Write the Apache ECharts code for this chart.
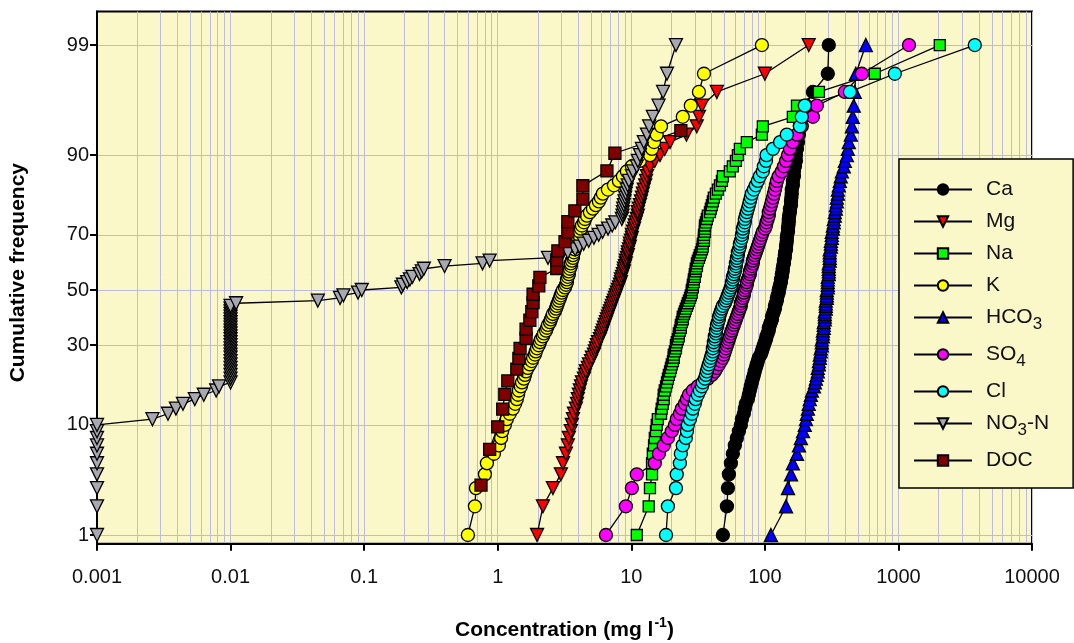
<!DOCTYPE html>
<html>
<head>
<meta charset="utf-8">
<title>Cumulative frequency of concentrations</title>
<script src="https://cdn.jsdelivr.net/npm/echarts@6/dist/echarts.min.js"></script>
<style>
  html, body { margin: 0; padding: 0; background: #fff; }
  #chart { width: 1074px; height: 643px; }
</style>
</head>
<body>
<div id="chart"></div>
<script>
// plotting positions (cumulative frequency, %)
const freq99 = [1, 2, 3, 4, 5, 6, 7, 8, 9, 10, 11, 12, 13, 14, 15, 16, 17, 18, 19, 20,
  21, 22, 23, 24, 25, 26, 27, 28, 29, 30, 31, 32, 33, 34, 35, 36, 37, 38, 39, 40,
  41, 42, 43, 44, 45, 46, 47, 48, 49, 50, 51, 52, 53, 54, 55, 56, 57, 58, 59, 60,
  61, 62, 63, 64, 65, 66, 67, 68, 69, 70, 71, 72, 73, 74, 75, 76, 77, 78, 79, 80,
  81, 82, 83, 84, 85, 86, 87, 88, 89, 90, 91, 92, 93, 94, 95, 96, 97, 98, 99];
const freqDoc = [3.2, 6.5, 9.7, 12.9, 16.1, 19.4, 22.6, 25.8, 29.0, 32.3, 35.5, 38.7, 41.9, 45.2, 48.4,
  51.6, 54.8, 58.1, 61.3, 64.5, 67.7, 71.0, 74.2, 77.4, 80.6, 83.9, 87.1, 90.3, 93.5];

// concentrations (mg/l), sorted
const ca = [48.5, 52.0, 52.9, 53.8, 55.7, 57.6, 59.6, 61.7, 63.9, 66.1,
  67.3, 69.6, 70.8, 72.1, 74.6, 75.9, 77.2, 78.5, 79.9, 81.3,
  82.7, 84.1, 85.6, 87.1, 88.6, 90.1, 93.3, 95.0, 96.6, 98.3,
  100, 102, 103, 105, 107, 107, 109, 111, 113, 113,
  115, 117, 119, 119, 121, 123, 123, 125, 127, 127,
  129, 130, 132, 132, 134, 134, 136, 136, 137, 139,
  139, 141, 141, 142, 144, 144, 145, 146, 146, 147,
  149, 149, 150, 151, 151, 152, 154, 154, 157, 157,
  158, 159, 159, 162, 162, 165, 165, 168, 171, 171,
  174, 177, 180, 183, 189, 203, 229, 296, 301];
const mg = [1.97, 2.18, 2.59, 2.97, 3.08, 3.24, 3.35, 3.41, 3.53, 3.59,
  3.66, 3.72, 3.85, 3.92, 3.98, 4.05, 4.12, 4.20, 4.27, 4.42,
  4.50, 4.57, 4.73, 4.82, 4.99, 5.07, 5.25, 5.34, 5.43, 5.53,
  5.63, 5.82, 5.92, 6.03, 6.13, 6.24, 6.35, 6.46, 6.57, 6.68,
  6.80, 6.92, 7.04, 7.16, 7.28, 7.41, 7.54, 7.67, 7.80, 7.94,
  8.08, 8.22, 8.36, 8.36, 8.51, 8.65, 8.80, 8.80, 8.96, 9.11,
  9.11, 9.27, 9.43, 9.43, 9.60, 9.76, 9.76, 9.93, 10.1, 10.1,
  10.3, 10.5, 10.6, 10.8, 11.0, 11.2, 11.2, 11.4, 11.6, 11.8,
  12.0, 12.2, 12.4, 12.7, 12.9, 13.1, 13.3, 13.8, 15.0, 16.4,
  17.8, 19.5, 25.9, 30.9, 32.1, 33.8, 43.7, 100, 213];
const na = [11.0, 13.5, 13.8, 14.3, 14.3, 14.5, 14.8, 15.0, 15.3, 15.5,
  15.8, 16.7, 16.9, 17.2, 17.5, 17.5, 17.8, 18.2, 18.5, 18.8,
  19.1, 19.5, 19.8, 20.1, 20.5, 20.8, 20.8, 21.2, 21.6, 21.6,
  21.9, 22.3, 22.7, 22.7, 23.1, 23.5, 23.5, 23.9, 24.3, 24.3,
  24.8, 25.2, 25.6, 26.1, 26.5, 27.0, 27.5, 27.9, 28.4, 28.4,
  28.9, 28.9, 29.4, 29.4, 29.9, 29.9, 30.4, 30.4, 31.0, 31.0,
  31.5, 32.1, 32.6, 33.2, 33.8, 34.3, 34.3, 35.0, 35.0, 35.0,
  35.6, 35.6, 35.6, 36.2, 36.8, 37.4, 38.8, 39.4, 40.1, 40.8,
  41.5, 43.0, 44.5, 46.1, 47.7, 48.5, 54.7, 57.6, 60.7, 62.8,
  65.0, 73.3, 95.0, 96.6, 162, 174, 254, 666, 2040];
const k = [0.598, 0.675, 0.687, 0.802, 0.830, 0.937, 1.02, 1.06, 1.08, 1.13,
  1.17, 1.23, 1.30, 1.35, 1.39, 1.42, 1.44, 1.49, 1.52, 1.57,
  1.60, 1.63, 1.68, 1.74, 1.80, 1.84, 1.90, 1.93, 1.97, 2.03,
  2.07, 2.11, 2.18, 2.22, 2.30, 2.34, 2.38, 2.46, 2.50, 2.55,
  2.59, 2.68, 2.73, 2.77, 2.82, 2.87, 2.92, 2.97, 3.02, 3.08,
  3.19, 3.24, 3.30, 3.30, 3.35, 3.41, 3.41, 3.47, 3.53, 3.53,
  3.59, 3.66, 3.66, 3.72, 3.78, 3.85, 3.92, 3.92, 3.98, 4.05,
  4.12, 4.20, 4.27, 4.42, 4.50, 4.65, 4.90, 5.16, 5.43, 5.72,
  5.92, 6.13, 6.68, 7.41, 8.08, 8.65, 9.27, 10.1, 11.6, 13.8,
  14.3, 14.8, 15.5, 16.7, 24.3, 27.9, 32.1, 35.0, 95];
const hco3 = [111, 144, 149, 157, 162, 174, 180, 186, 193, 199,
  203, 206, 210, 213, 217, 221, 225, 233, 237, 241,
  245, 249, 249, 254, 254, 258, 258, 262, 262, 267,
  267, 267, 272, 272, 272, 276, 276, 276, 281, 281,
  281, 281, 286, 286, 286, 286, 291, 291, 291, 291,
  296, 296, 296, 296, 296, 301, 301, 301, 301, 301,
  306, 306, 306, 306, 306, 312, 312, 312, 317, 317,
  317, 323, 323, 328, 328, 334, 334, 340, 340, 346,
  346, 352, 352, 358, 364, 370, 377, 390, 397, 411,
  418, 425, 440, 448, 455, 463, 471, 480, 570];
const so4 = [6.46, 9.11, 10.1, 11.0, 15.0, 16.1, 17.5, 18.8, 20.1, 21.2,
  21.9, 23.1, 23.9, 25.2, 26.1, 27.0, 28.9, 31.5, 34.3, 37.4,
  40.1, 42.2, 43.7, 45.3, 46.9, 48.5, 49.3, 50.2, 51.1, 52.0,
  52.9, 53.8, 54.7, 55.7, 56.6, 57.6, 58.6, 59.6, 60.7, 61.7,
  62.8, 63.9, 65.0, 66.1, 66.1, 67.3, 68.4, 69.6, 69.6, 70.8,
  72.1, 73.3, 73.3, 74.6, 75.9, 77.2, 77.2, 78.5, 79.9, 81.3,
  81.3, 82.7, 84.1, 85.6, 87.1, 88.6, 90.1, 91.7, 93.3, 95.0,
  96.6, 100, 102, 103, 105, 107, 107, 109, 111, 113,
  115, 117, 119, 121, 123, 127, 134, 139, 144, 149,
  154, 162, 174, 189, 229, 245, 397, 532, 1200];
const cl = [18.2, 18.8, 21.6, 21.9, 23.1, 23.5, 24.3, 25.6, 26.1, 26.5,
  27.5, 28.4, 28.9, 29.9, 30.4, 31.5, 32.6, 33.8, 34.3, 35.6,
  36.2, 36.8, 37.4, 38.1, 38.8, 39.4, 40.1, 40.8, 40.8, 41.5,
  41.5, 42.2, 42.2, 43.0, 43.0, 43.7, 43.7, 44.5, 45.3, 45.3,
  46.1, 46.9, 47.7, 48.5, 50.2, 51.1, 52.0, 52.9, 53.8, 54.7,
  55.7, 56.6, 56.6, 57.6, 57.6, 58.6, 59.6, 59.6, 60.7, 60.7,
  61.7, 61.7, 62.8, 62.8, 63.9, 65.0, 65.0, 66.1, 67.3, 67.3,
  68.4, 68.4, 69.6, 70.8, 70.8, 72.1, 73.3, 74.6, 75.9, 77.2,
  78.5, 79.9, 82.7, 85.6, 88.6, 91.7, 96.6, 98.3, 102, 103,
  115, 130, 146, 183, 189, 199, 433, 940, 3730];
const no3n = [0.001, 0.001, 0.001, 0.001, 0.001, 0.001, 0.001, 0.001, 0.001, 0.001,
  0.0026, 0.0034, 0.0039, 0.0044, 0.0054, 0.0063, 0.0078, 0.0082, 0.01, 0.01,
  0.01, 0.01, 0.01, 0.01, 0.01, 0.01, 0.01, 0.01, 0.01, 0.01,
  0.01, 0.01, 0.01, 0.01, 0.01, 0.01, 0.01, 0.01, 0.01, 0.01,
  0.01, 0.01, 0.01, 0.01, 0.011, 0.045, 0.066, 0.070, 0.090, 0.096,
  0.19, 0.195, 0.21, 0.22, 0.23, 0.26, 0.27, 0.28, 0.40, 0.77,
  0.87, 2.38, 3.0, 3.35, 3.8, 4.1, 4.4, 4.8, 5.25, 5.7,
  6.1, 6.7, 7.2, 7.6, 8.5, 8.6, 8.65, 8.7, 8.8, 8.9,
  9.0, 9.1, 9.25, 9.4, 9.6, 10.1, 10.3, 11.0, 11.2, 11.6,
  12.0, 12.4, 13.1, 13.6, 14.5, 16.0, 17.3, 18.5, 21.6];
const doc = [0.75, 0.87, 1.00, 1.09, 1.13, 1.19, 1.39, 1.44, 1.47, 1.63, 1.63, 1.74, 1.80, 1.84, 1.84,
  2.03, 2.07, 2.77, 2.77, 2.82, 3.19, 3.35, 3.35, 3.78, 4.34, 4.34, 6.57, 7.54, 23.5];

// tick labels
const xTicks = [0.001, 0.01, 0.1, 1, 10, 100, 1000, 10000];
const yTicks = [1, 10, 30, 50, 70, 90, 99];

const FONT = '"Liberation Sans", Arial, Helvetica, sans-serif';
const GRID_COLOR = '#BDBBDF';

// inverse of the standard normal cdf (Acklam)
function probit(p) {
  const a = [-3.969683028665376e+01, 2.209460984245205e+02, -2.759285104469687e+02,
    1.383577518672690e+02, -3.066479806614716e+01, 2.506628277459239e+00];
  const b = [-5.447609879822406e+01, 1.615858368580409e+02, -1.556989798598866e+02,
    6.680131188771972e+01, -1.328068155288572e+01];
  const c = [-7.784894002430293e-03, -3.223964580411365e-01, -2.400758277161838e+00,
    -2.549732539343734e+00, 4.374664141464968e+00, 2.938163982698783e+00];
  const d = [7.784695709041462e-03, 3.224671290700398e-01, 2.445134137142996e+00,
    3.754408661907416e+00];
  const pl = 0.02425;
  let q, r;
  if (p < pl) {
    q = Math.sqrt(-2 * Math.log(p));
    return (((((c[0] * q + c[1]) * q + c[2]) * q + c[3]) * q + c[4]) * q + c[5]) /
      ((((d[0] * q + d[1]) * q + d[2]) * q + d[3]) * q + 1);
  }
  if (p > 1 - pl) {
    q = Math.sqrt(-2 * Math.log(1 - p));
    return -(((((c[0] * q + c[1]) * q + c[2]) * q + c[3]) * q + c[4]) * q + c[5]) /
      ((((d[0] * q + d[1]) * q + d[2]) * q + d[3]) * q + 1);
  }
  q = p - 0.5;
  r = q * q;
  return (((((a[0] * r + a[1]) * r + a[2]) * r + a[3]) * r + a[4]) * r + a[5]) * q /
    (((((b[0] * r + b[1]) * r + b[2]) * r + b[3]) * r + b[4]) * r + 1);
}

// vertical grid lines at 1..9 x 10^n
const xGrid = [];
xTicks.forEach((t, i) => {
  if (i === xTicks.length - 1) { xGrid.push(t); return; }
  for (let m = 1; m < 10; m++) xGrid.push(+(t * m).toPrecision(3));
});

const yTickZ = yTicks.map(t => probit(t / 100));

const defs = [
  { name: 'Ca', vals: ca, freq: freq99, symbol: 'circle', size: 13, color: '#000000' },
  { name: 'Mg', vals: mg, freq: freq99, symbol: 'triangle', size: 13, color: '#FF0000', rotate: 180 },
  { name: 'Na', vals: na, freq: freq99, symbol: 'rect', size: 11, color: '#00FF00' },
  { name: 'K', vals: k, freq: freq99, symbol: 'circle', size: 13, color: '#FFFF00' },
  { name: 'HCO3', vals: hco3, freq: freq99, symbol: 'triangle', size: 13, color: '#0000FF' },
  { name: 'SO4', vals: so4, freq: freq99, symbol: 'circle', size: 13, color: '#FF00FF' },
  { name: 'Cl', vals: cl, freq: freq99, symbol: 'circle', size: 13, color: '#00FFFF' },
  { name: 'NO3-N', vals: no3n, freq: freq99, symbol: 'triangle', size: 13, color: '#A8A8B0', rotate: 180 },
  { name: 'DOC', vals: doc, freq: freqDoc, symbol: 'rect', size: 12, color: '#800000' }
];

const series = defs.map(s => ({
  name: s.name,
  type: 'line',
  xAxisIndex: 0,
  data: s.vals.map((v, i) => [v, probit(s.freq[i] / 100)]),
  symbol: s.symbol,
  symbolSize: s.size,
  symbolRotate: s.rotate || 0,
  showSymbol: true,
  lineStyle: { color: '#000', width: 1.3 },
  itemStyle: { color: s.color, borderColor: '#000', borderWidth: 1.3 },
  emphasis: { disabled: true }
}));

const legendNames = {
  'HCO3': 'HCO{sub|3}',
  'SO4': 'SO{sub|4}',
  'NO3-N': 'NO{sub|3}-N'
};

const chart = echarts.init(document.getElementById('chart'));
chart.setOption({
  animation: false,
  backgroundColor: '#ffffff',
  textStyle: { fontFamily: FONT },
  grid: {
    left: 97, right: 42, top: 11.5, bottom: 99.2,
    show: true,
    backgroundColor: '#FAF7C9',
    borderColor: '#000',
    borderWidth: 2,
    outerBoundsMode: 'none'
  },
  legend: {
    orient: 'vertical',
    left: 899,
    top: 159,
    padding: [20, 24, 17, 14],
    itemWidth: 58,
    itemHeight: 13,
    itemGap: 11,
    backgroundColor: '#FAF7C9',
    borderColor: '#000',
    borderWidth: 1.5,
    borderRadius: 0,
    selectedMode: false,
    textStyle: {
      fontFamily: FONT,
      fontSize: 21,
      color: '#111',
      padding: [0, 0, 0, 9],
      rich: {
        sub: { fontFamily: FONT, fontSize: 17, color: '#111', padding: [14, 0, 0, 0] }
      }
    },
    formatter: name => legendNames[name] || name,
    data: defs.map(s => s.name)
  },
  xAxis: [
    {
      type: 'log',
      logBase: 10,
      min: 0.001,
      max: 10000,
      position: 'bottom',
      name: '{b|Concentration (mg l}{sup|-1}{b|)}',
      nameLocation: 'middle',
      nameGap: 72,
      nameTextStyle: {
        rich: {
          b: { fontFamily: FONT, fontSize: 21, fontWeight: 'bold', color: '#000' },
          sup: { fontFamily: FONT, fontSize: 14, fontWeight: 'bold', color: '#000', padding: [0, 0, 14, 1] }
        }
      },
      axisLine: { show: true, onZero: false, lineStyle: { color: '#000', width: 2 } },
      axisTick: { show: true, inside: false, length: 7, lineStyle: { color: '#000', width: 2 }, customValues: xTicks },
      axisLabel: {
        customValues: xTicks,
        formatter: v => String(v),
        fontFamily: FONT,
        fontSize: 20,
        color: '#111',
        margin: 24
      },
      splitLine: { show: false }
    },
    {
      type: 'log',
      logBase: 10,
      min: 0.001,
      max: 10000,
      position: 'bottom',
      axisLine: { show: false, onZero: false },
      axisTick: { show: false, customValues: xGrid },
      axisLabel: { show: false },
      splitLine: { show: true, lineStyle: { color: GRID_COLOR, width: 1 } }
    }
  ],
  yAxis: {
    type: 'value',
    min: -2.41,
    max: 2.645,
    name: 'Cumulative frequency',
    nameLocation: 'middle',
    nameGap: 68,
    nameTextStyle: { fontFamily: FONT, fontSize: 21, fontWeight: 'bold', color: '#000', padding: [0, 0, 0, 10] },
    axisLine: { show: true, onZero: false, lineStyle: { color: '#000', width: 2 } },
    axisTick: { show: true, inside: false, length: 7, lineStyle: { color: '#000', width: 2 }, customValues: yTickZ },
    axisLabel: {
      customValues: yTickZ,
      formatter: v => {
        const i = yTickZ.findIndex(z => Math.abs(z - v) < 1e-6);
        return i >= 0 ? String(yTicks[i]) : '';
      },
      fontFamily: FONT,
      fontSize: 20,
      color: '#111',
      margin: 8
    },
    splitLine: { show: true, lineStyle: { color: GRID_COLOR, width: 1 } }
  },
  series: series
});
window.addEventListener('resize', () => chart.resize());
</script>
</body>
</html>
